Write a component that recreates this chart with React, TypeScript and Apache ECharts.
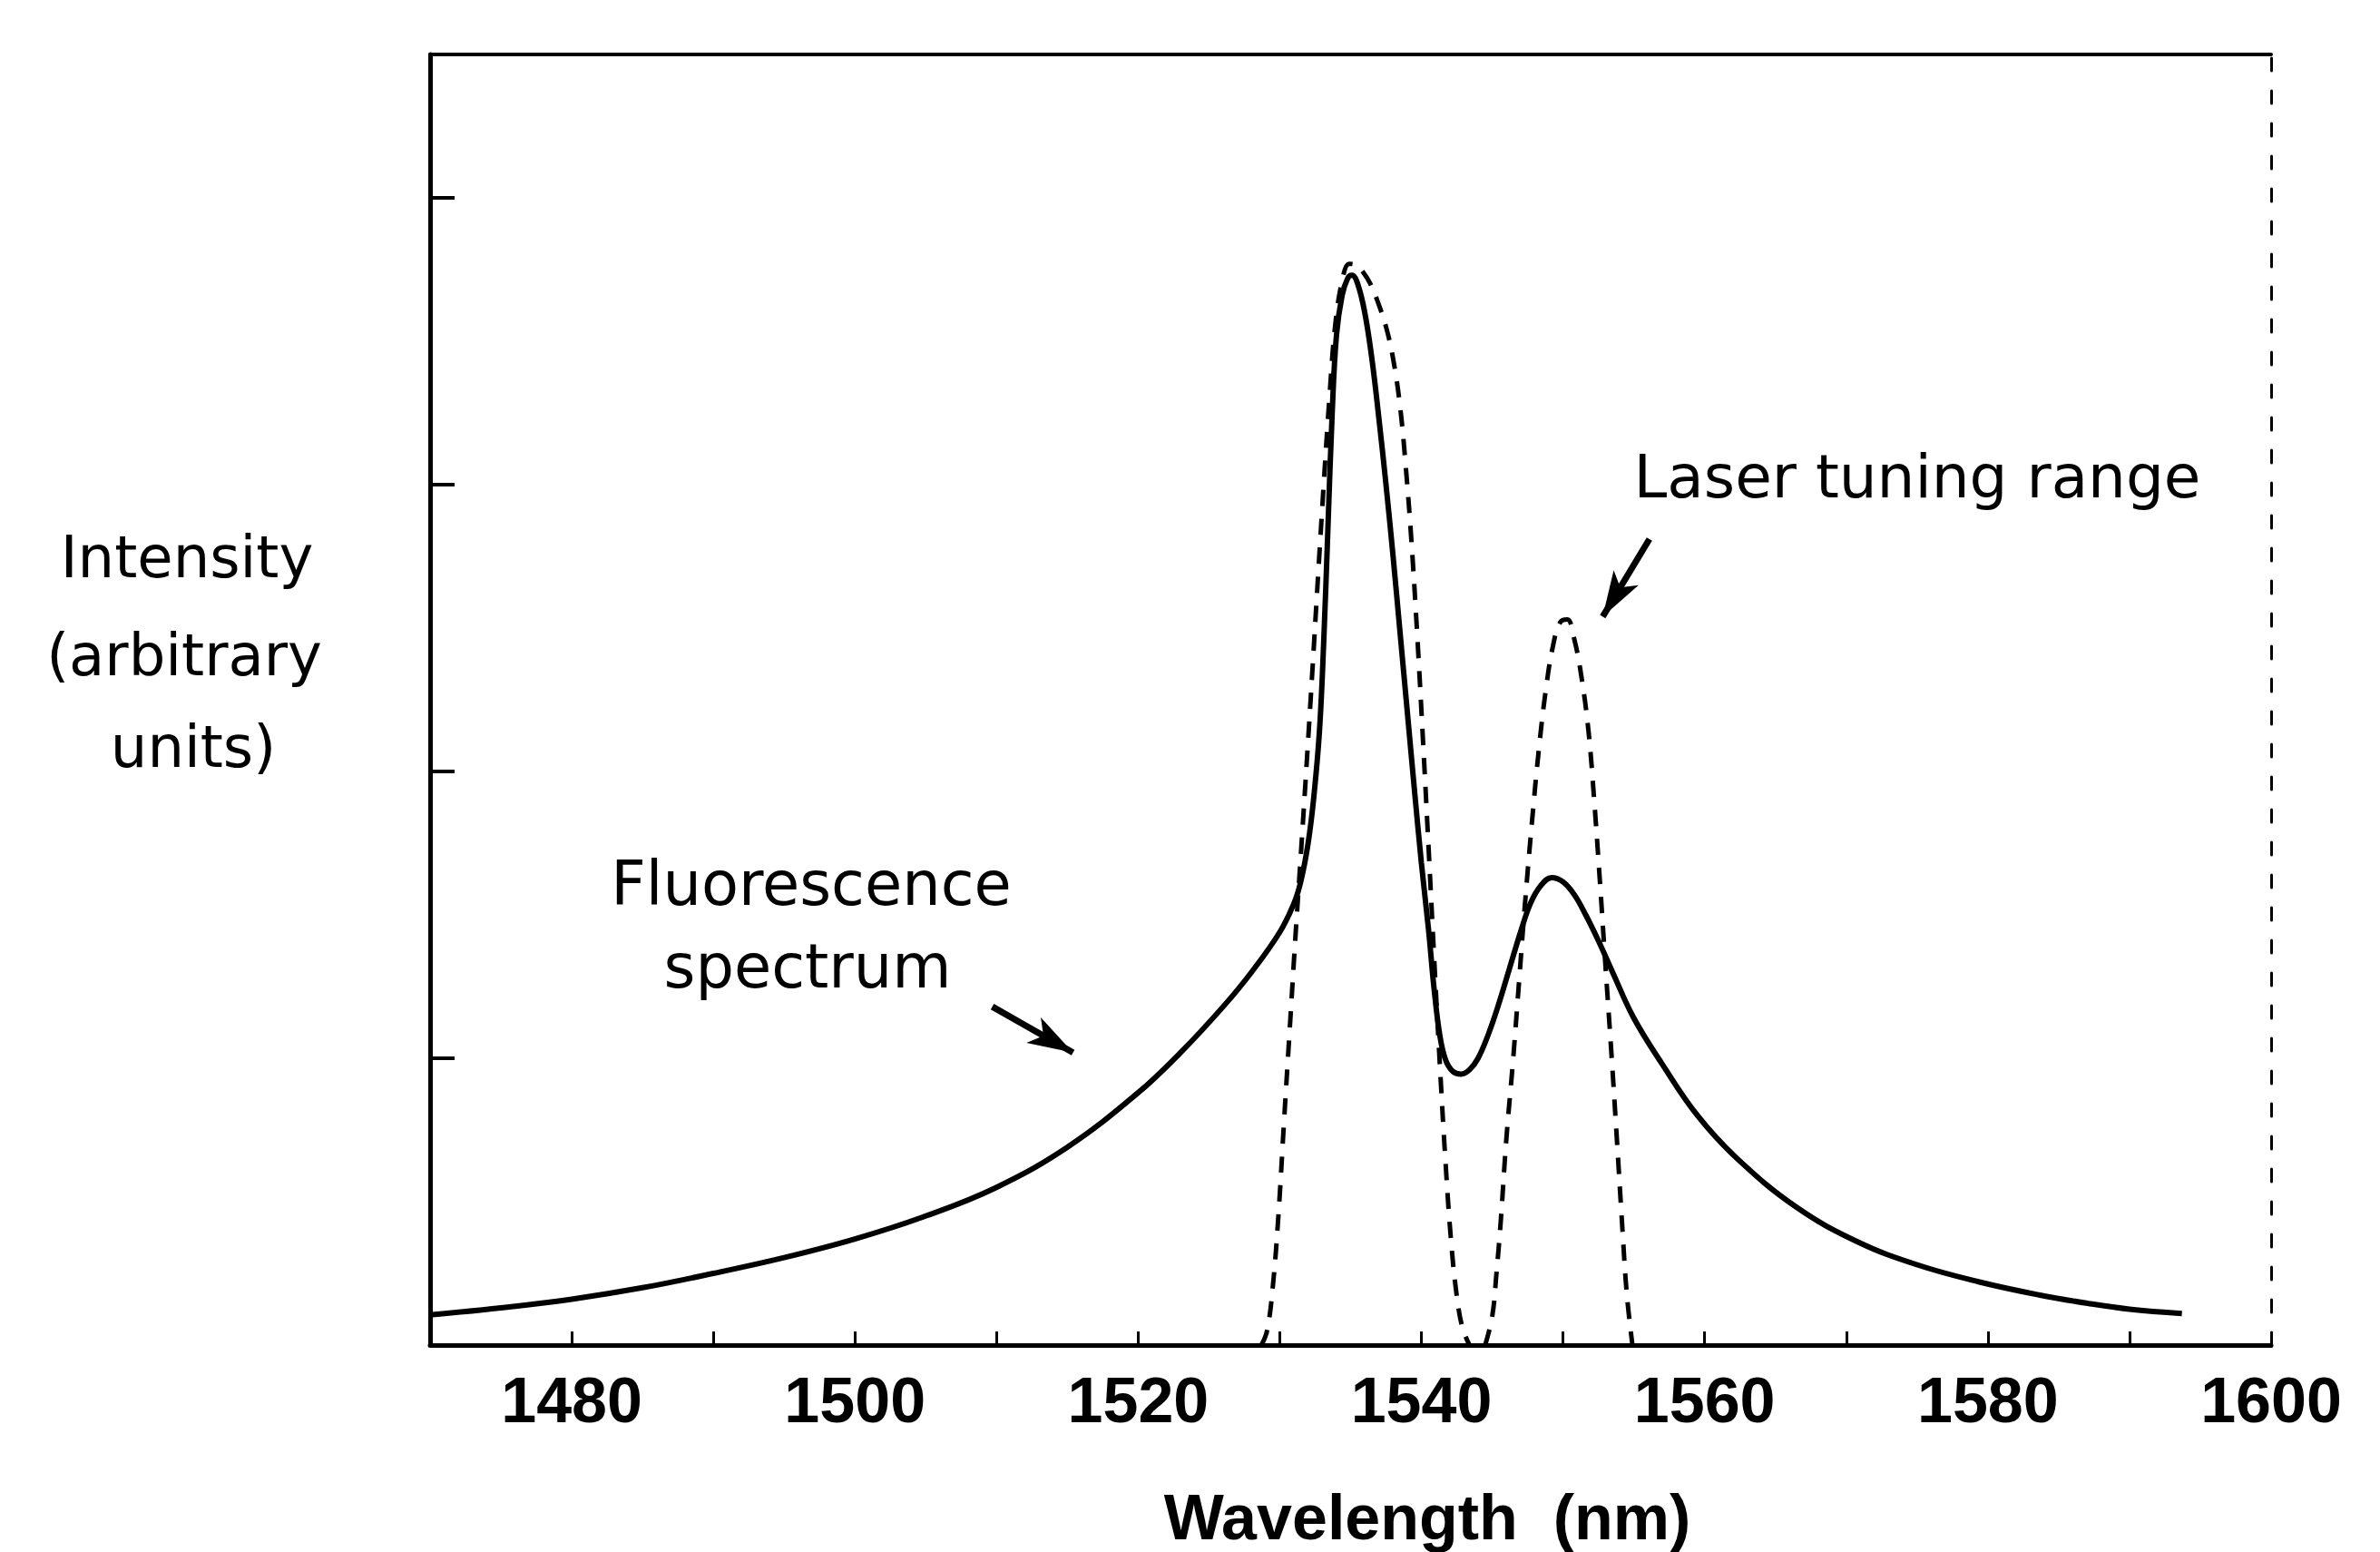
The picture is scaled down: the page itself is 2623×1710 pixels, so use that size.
import React, { useEffect, useRef } from "react";
import * as echarts from "echarts";

// Fluorescence spectrum (solid line): wavelength (nm) and intensity (arbitrary units)
const fluorescenceWavelength = [
  1470, 1475, 1480, 1485, 1490, 1495, 1500, 1505, 1510, 1515, 1520, 1523, 1526, 1528, 1530,
  1531, 1531.5, 1532, 1532.4, 1532.8, 1533.1, 1533.4, 1533.7, 1534, 1534.4, 1534.8, 1535.1,
  1535.5, 1536, 1536.5, 1537, 1537.5, 1538, 1538.5, 1539, 1539.5, 1540, 1540.5, 1540.9, 1541.3,
  1541.7, 1542.2, 1542.8, 1543.4, 1544, 1544.7, 1545.4, 1546.2, 1547, 1547.7, 1548.4, 1549.2,
  1550, 1550.8, 1551.6, 1552.5, 1553.5, 1555, 1557, 1559.5, 1562.3, 1566.5, 1570.8, 1575,
  1579.4, 1583.6, 1587.1, 1590, 1593.7,
];
const fluorescenceIntensity = [
  0.105, 0.13, 0.16, 0.2, 0.25, 0.305, 0.37, 0.45, 0.55, 0.69, 0.88, 1.02, 1.18, 1.3, 1.44,
  1.54, 1.62, 1.75, 1.91, 2.14, 2.45, 2.85, 3.25, 3.52, 3.66, 3.72, 3.73,
  3.7, 3.6, 3.44, 3.23, 3.0, 2.75, 2.48, 2.21, 1.94, 1.68, 1.45, 1.24, 1.08,
  0.995, 0.955, 0.945, 0.96, 1.0, 1.08, 1.18, 1.31, 1.44, 1.54, 1.6, 1.63,
  1.615, 1.57, 1.5, 1.41, 1.3, 1.14, 0.98, 0.8, 0.65, 0.48, 0.36, 0.28,
  0.22, 0.175, 0.145, 0.125, 0.11,
];

// Laser tuning range (dashed line), first lobe
const laserLobe1Wavelength = [
  1528.7, 1529.1, 1529.5, 1529.9, 1530.3, 1530.7, 1531.1, 1531.5, 1531.9, 1532.3, 1532.7,
  1533.1, 1533.5, 1533.9, 1534.4, 1534.9, 1535.4, 1535.9, 1536.4, 1536.9, 1537.5, 1538,
  1538.5, 1538.9, 1539.3, 1539.7, 1540.1, 1540.5, 1540.9, 1541.3, 1541.7, 1542.1, 1542.5,
  1542.9, 1543.4,
];
const laserLobe1Intensity = [
  0, 0.05, 0.2, 0.45, 0.78, 1.1, 1.42, 1.72, 2.03, 2.35, 2.68,
  3.0, 3.3, 3.55, 3.71, 3.77, 3.765, 3.74, 3.7, 3.64, 3.55, 3.44,
  3.27, 3.06, 2.8, 2.48, 2.12, 1.74, 1.35, 0.98, 0.64, 0.36, 0.17,
  0.06, 0,
];

// Laser tuning range (dashed line), second lobe
const laserLobe2Wavelength = [
  1544.5, 1545, 1545.3, 1545.6, 1546, 1546.45, 1546.9, 1547.3, 1547.8, 1548.3, 1548.8, 1549.3,
  1549.8, 1550.3, 1550.8, 1551.3, 1551.8, 1552.2, 1552.6, 1553, 1553.4, 1553.8, 1554.2, 1554.5,
  1554.9,
];
const laserLobe2Intensity = [
  0, 0.1, 0.25, 0.43, 0.72, 0.98, 1.27, 1.53, 1.82, 2.08, 2.29, 2.44,
  2.52, 2.53, 2.46, 2.33, 2.14, 1.9, 1.62, 1.32, 1.03, 0.72, 0.4, 0.18,
  0,
];

// Axis ranges and tick labels
const xMin = 1470;
const xMax = 1600;
const xTickStep = 10;
const xLabelStep = 20;
const yMin = 0;
const yMax = 4.5;
const yTickStep = 1;

// Annotation arrows (data coordinates): [start, tip]
const fluorescenceArrow = [[1509.7, 1.18], [1515.4, 1.02]];
const laserArrow = [[1556.1, 2.81], [1552.8, 2.54]];

const zip = (xs: number[], ys: number[]) => xs.map((x, i) => [x, ys[i]]);

export default function App() {
  const ref = useRef<HTMLDivElement>(null);

  useEffect(() => {
    const chart = echarts.init(ref.current!, null, { renderer: "svg" });
    const black = "#000";
    const sans = '"DejaVu Sans", sans-serif';
    const bold = '"Liberation Sans", Arial, sans-serif';

    const arrowLine = (pts: number[][]) => [
      { coord: pts[0], symbol: "none" },
      { coord: pts[1], symbol: "arrow", symbolSize: [24, 50] },
    ];

    const option: any = {
      animation: false,
      backgroundColor: "#fff",
      grid: { left: 474, right: 120, top: 60, bottom: 228, containLabel: false },
      xAxis: [
        {
          type: "value",
          min: xMin,
          max: xMax,
          interval: xTickStep,
          position: "bottom",
          axisLine: { show: true, onZero: false, lineStyle: { color: black, width: 5 } },
          axisTick: { show: true, inside: true, length: 15, lineStyle: { color: black, width: 3 } },
          axisLabel: {
            show: true,
            margin: 26,
            color: black,
            fontFamily: bold,
            fontWeight: "bold",
            fontSize: 70,
            showMinLabel: true,
            showMaxLabel: true,
            formatter: (v: number) => (v % xLabelStep === 0 ? String(v) : ""),
          },
          splitLine: { show: false },
        },
        {
          type: "value",
          min: xMin,
          max: xMax,
          position: "top",
          axisLine: { show: true, onZero: false, lineStyle: { color: black, width: 4 } },
          axisTick: { show: false },
          axisLabel: { show: false },
          splitLine: { show: false },
        },
      ],
      yAxis: [
        {
          type: "value",
          min: yMin,
          max: yMax,
          interval: yTickStep,
          position: "left",
          axisLine: { show: true, onZero: false, lineStyle: { color: black, width: 5 } },
          axisTick: { show: true, inside: true, length: 27, lineStyle: { color: black, width: 4 } },
          axisLabel: { show: false },
          splitLine: { show: false },
        },
        {
          type: "value",
          min: yMin,
          max: yMax,
          position: "right",
          axisLine: { show: true, onZero: false, lineStyle: { color: black, width: 3, type: [14, 22] } },
          axisTick: { show: false },
          axisLabel: { show: false },
          splitLine: { show: false },
        },
      ],
      series: [
        {
          name: "Fluorescence spectrum",
          type: "line",
          data: zip(fluorescenceWavelength, fluorescenceIntensity),
          showSymbol: false,
          smooth: 0.4,
          lineStyle: { color: black, width: 6 },
          z: 3,
          markLine: {
            silent: true,
            symbol: ["none", "arrow"],
            label: { show: false },
            lineStyle: { color: black, width: 7, type: "solid" },
            data: [arrowLine(fluorescenceArrow), arrowLine(laserArrow)],
          },
        },
        {
          name: "Laser tuning range",
          type: "line",
          data: zip(laserLobe1Wavelength, laserLobe1Intensity),
          showSymbol: false,
          smooth: 0.4,
          lineStyle: { color: black, width: 5, type: [18, 14] },
          z: 2,
        },
        {
          name: "Laser tuning range ",
          type: "line",
          data: zip(laserLobe2Wavelength, laserLobe2Intensity),
          showSymbol: false,
          smooth: 0.4,
          lineStyle: { color: black, width: 5, type: [18, 14] },
          z: 2,
        },
      ],
      graphic: [
        { type: "text", x: 206, y: 614, style: { text: "Intensity", fontFamily: sans, fontSize: 64, fill: black, align: "center", verticalAlign: "middle" } },
        { type: "text", x: 203, y: 722, style: { text: "(arbitrary", fontFamily: sans, fontSize: 64, fill: black, align: "center", verticalAlign: "middle" } },
        { type: "text", x: 213, y: 823, style: { text: "units)", fontFamily: sans, fontSize: 64, fill: black, align: "center", verticalAlign: "middle" } },
        { type: "text", x: 894, y: 974, style: { text: "Fluorescence", fontFamily: sans, fontSize: 67, fill: black, align: "center", verticalAlign: "middle" } },
        { type: "text", x: 890, y: 1065, style: { text: "spectrum", fontFamily: sans, fontSize: 67, fill: black, align: "center", verticalAlign: "middle" } },
        { type: "text", x: 2113, y: 525, style: { text: "Laser tuning range", fontFamily: sans, fontSize: 66, fill: black, align: "center", verticalAlign: "middle" } },
        { type: "text", x: 1573, y: 1672, style: { text: "Wavelength  (nm)", fontFamily: bold, fontWeight: "bold", fontSize: 70, fill: black, align: "center", verticalAlign: "middle" } },
      ],
    };

    chart.setOption(option);
    return () => chart.dispose();
  }, []);

  return (
    <div
      ref={ref}
      style={{ position: "absolute", left: 0, top: 0, width: 2623, height: 1710, background: "#fff" }}
    />
  );
}
